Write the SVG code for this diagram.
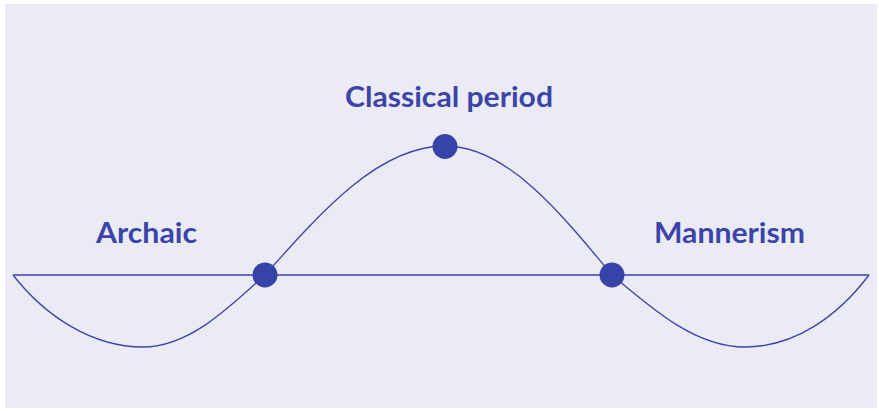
<svg xmlns="http://www.w3.org/2000/svg" width="879" height="411" viewBox="0 0 879 411">
<style>
.lbl{font-family:Lato,"Noto Sans",sans-serif;font-weight:700;font-size:29px;fill:#3A44A9;text-anchor:middle}
.ln{fill:none;stroke:#3A44A9;stroke-width:1.3}
.dot{fill:#3843A8}
</style>
<rect x="0" y="0" width="879" height="411" fill="#ffffff"/>
<rect x="5" y="4" width="872" height="404" fill="#EBEBF5"/>
<g id="connectors">
<line class="ln" x1="13" y1="275" x2="869" y2="275"/>
<path class="ln" d="M13,275 C45,316 92,347 143,347 C187,347 225,311.9 265,275 C323.7,208.9 379.8,146 445,146 C505.5,146 557.6,208.9 612,275 C655.4,311.9 696.9,347 745,347 C795,347 838,316 869,275"/>
</g>
<g id="archaic">
<circle class="dot" cx="265" cy="275" r="12.5"/>
<text class="lbl" x="146.5" y="243" textLength="101" lengthAdjust="spacingAndGlyphs">Archaic</text>
</g>
<g id="classical">
<circle class="dot" cx="445" cy="146.5" r="12.5"/>
<text class="lbl" x="449" y="107" textLength="208" lengthAdjust="spacingAndGlyphs">Classical period</text>
</g>
<g id="mannerism">
<circle class="dot" cx="612" cy="275" r="12.5"/>
<text class="lbl" x="729.5" y="243" textLength="151" lengthAdjust="spacingAndGlyphs">Mannerism</text>
</g>
</svg>
